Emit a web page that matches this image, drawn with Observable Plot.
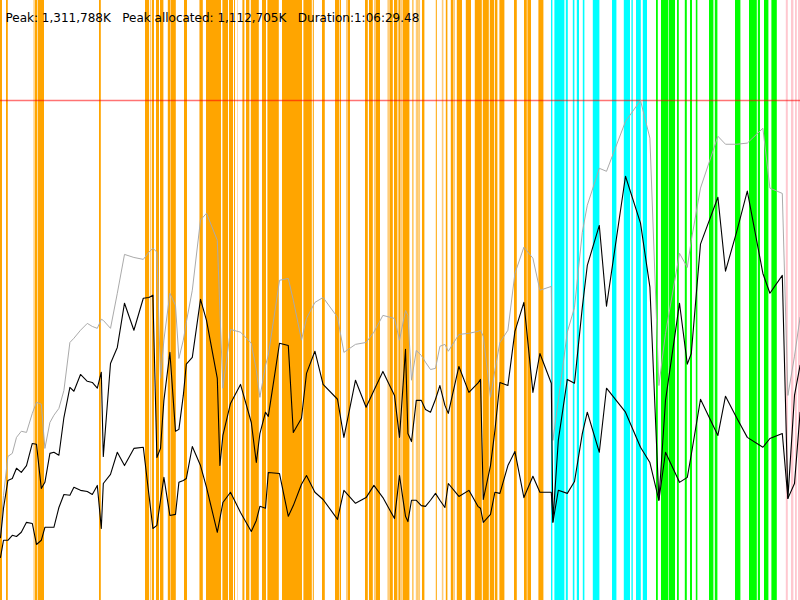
<!DOCTYPE html>
<html><head><meta charset="utf-8">
<script src="https://cdn.jsdelivr.net/npm/d3@7"></script>
<script src="https://cdn.jsdelivr.net/npm/@observablehq/plot@0.6"></script>
<style>body{margin:0;background:#fff}#chart svg{display:block}</style>
</head><body><div id="chart"></div>
<script>
// memory in thousands of K, time in seconds
const peakK = 1311.788;
const peakAllocatedK = 1112.705;
const headerText = "Peak: 1,311,788K\u00a0\u00a0\u00a0Peak allocated: 1,112,705K\u00a0\u00a0\u00a0Duration:1:06:29.48";

const times = [0,15,37,59,80,104,130,159,180,204,
222,247,267,292,317,347,367,400,434,459,
484,504,514,550,584,620,667,714,742,762,
782,800,817,847,875,892,914,929,959,1000,
1030,1084,1097,1112,1150,1200,1254,1279,1297,1325,
1339,1395,1439,1464,1505,1530,1572,1613,1685,1717,
1775,1828,1867,1912,1970,1995,2025,2037,2055,2079,
2104,2125,2150,2175,2197,2222,2239,2292,2342,2387,
2400,2414,2450,2472,2497,2537,2572,2617,2662,2697,
2754,2762,2789,2834,2870,2909,2934,2994,3030,3125,
3200,3247,3292,3325,3395,3434,3454,3500,3587,3625,
3680,3734,3812,3847,3909,3937,3970,3998];

const committed = [171,276,378,386,428,444,441,491,520,515,
399,467,486,504,551,677,688,709,727,719,
714,738,735,714,806,908,900,895,914,924,
914,583,683,806,774,635,683,730,814,998,
1016,945,761,557,711,704,675,604,533,617,
643,840,845,788,683,740,782,795,743,651,
672,677,704,748,740,683,761,748,578,656,
643,625,606,609,667,672,654,698,701,706,
709,693,533,604,677,709,858,927,898,814,
824,420,525,704,769,966,1037,1134,1126,1257,
1312,1213,564,701,911,874,945,1082,1218,1197,
1197,1200,1239,1082,1068,538,641,743];

const allocated = [165,242,315,320,347,336,354,412,410,294,
310,386,389,381,480,559,549,593,575,572,
557,599,378,622,664,780,709,793,795,801,
375,399,525,651,444,449,538,620,638,790,
735,583,354,433,517,567,467,362,438,494,
483,675,669,441,478,596,654,567,528,428,
578,507,551,601,538,428,659,438,417,525,
525,501,494,528,564,512,491,614,546,570,
580,265,354,446,572,564,706,782,546,648,
570,207,420,580,570,769,879,984,772,1113,
990,822,263,525,780,620,648,935,1058,864,
966,1074,858,806,853,268,538,617];

const live = [113,158,158,171,168,179,205,202,147,158,
192,192,192,244,278,276,297,289,286,278,
302,189,307,331,389,354,399,402,278,189,
197,263,323,223,226,310,315,320,404,354,
297,179,215,257,284,231,181,210,247,242,
336,333,221,249,305,328,284,265,213,289,
255,270,302,270,215,328,221,207,263,263,
249,247,263,281,263,244,307,273,289,247,
242,205,226,284,281,354,391,270,326,284,
284,205,289,281,312,438,494,389,557,494,
402,362,263,389,310,323,383,528,433,536,
480,428,402,425,438,268,307,494];

// GC event intervals [start, end] in seconds
const youngGC = [[0,10],[30,39],[175,187],[190,220],[495,504],[725,745],[759,770],[780,795],[800,817],[839,850],[855,879],[920,935],
[1000,1014],[1030,1105],[1112,1140],[1145,1165],[1170,1175],[1212,1222],[1230,1247],[1254,1294],[1310,1330],[1337,1394],[1410,1510],[1517,1559],[1564,1569],[1610,1624],[1675,1697],[1700,1705],[1740,1750],[1825,1839],[1845,1864],[1880,1900],[1950,1964],[1970,1987],[1992,2000],
[2014,2047],[2062,2067],[2087,2092],[2110,2122],[2179,2184],[2229,2237],[2254,2267],[2284,2310],[2329,2355],[2374,2409],[2414,2444],[2449,2470],[2474,2487],[2497,2522],[2570,2584],[2620,2634],[2637,2655],[2692,2717]];
const shortGC = [[167,174],[749,755],[850,855],[995,1000],[1187,1190],[1730,1740],[1870,1880],[1937,1950],[2000,2014],[2079,2087],[2092,2100],[2209,2217],[2267,2275]];
const mixedGC = [[2755,2762],[2772,2822],[2829,2839],[2864,2872],[2884,2895],[2914,2922],[2964,2997],[3060,3082],[3119,3150],[3157,3164],[3180,3204],[3214,3235]];
const fullGC = [[3280,3289],[3305,3342],[3345,3375],[3385,3394],[3424,3434],[3450,3460],[3479,3487],[3545,3567],[3574,3587],[3675,3702],[3745,3784],[3789,3800],[3820,3842],[3857,3884]];
const remarkGC = [[3929,3939],[3955,3967],[3975,3984],[3990,4000]];

const gcKinds = ["young", "young (short)", "mixed", "full", "remark"];
const gcColors = ["#ffa500", "#ffcc78", "#00ffff", "#00ff00", "#ffc8d0"];

const table = times.map((t, i) => ({t, committed: committed[i], allocated: allocated[i], live: live[i]}));
const gc = [youngGC, shortGC, mixedGC, fullGC, remarkGC].flatMap((arr, k) =>
  arr.map(([start, end]) => ({kind: gcKinds[k], start, end})));

const chart = Plot.plot({
  width: 800, height: 600, margin: 0,
  x: {domain: [0, 4000], axis: null},
  y: {domain: [0, peakK * 1.2], axis: null},
  color: {type: "ordinal", domain: gcKinds, range: gcColors},
  style: {background: "white"},
  marks: [
    Plot.rect(gc, {x1: "start", x2: "end", fill: "kind"}),
    Plot.ruleY([peakK], {stroke: "red", strokeOpacity: 0.55, strokeWidth: 1.5}),
    Plot.line(table, {x: "t", y: "committed", stroke: "#aaaaaa", strokeWidth: 1}),
    Plot.line(table, {x: "t", y: "allocated", stroke: "black", strokeWidth: 1.1}),
    Plot.line(table, {x: "t", y: "live", stroke: "black", strokeWidth: 1.1}),
    Plot.text([headerText], {text: d => d, frameAnchor: "top-left", textAnchor: "start", dx: 5, dy: 13,
      fontSize: 12, fontFamily: "DejaVu Sans, Verdana, sans-serif", fill: "black"})
  ]
});
document.getElementById("chart").appendChild(chart);
</script>
</body></html>
